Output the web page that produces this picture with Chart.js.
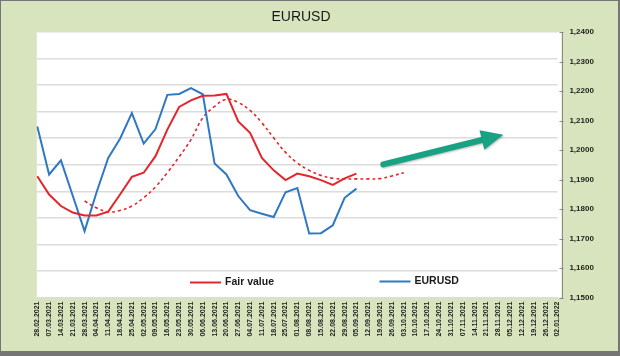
<!DOCTYPE html>
<html><head><meta charset="utf-8">
<script src="https://cdn.jsdelivr.net/npm/chart.js@4"></script>
<style>html,body{margin:0;padding:0;background:#fff;}canvas{display:block}</style>
</head><body><canvas id="c" width="620" height="356"></canvas>
<script>
const chartTitle = 'EURUSD';
const categories = ['28.02.2021','07.03.2021','14.03.2021','21.03.2021','28.03.2021','04.04.2021','11.04.2021','18.04.2021','25.04.2021','02.05.2021','09.05.2021','16.05.2021','23.05.2021','30.05.2021','06.06.2021','13.06.2021','20.06.2021','27.06.2021','04.07.2021','11.07.2021','18.07.2021','25.07.2021','01.08.2021','08.08.2021','15.08.2021','22.08.2021','29.08.2021','05.09.2021','12.09.2021','19.09.2021','26.09.2021','03.10.2021','10.10.2021','17.10.2021','24.10.2021','31.10.2021','07.11.2021','14.11.2021','21.11.2021','28.11.2021','05.12.2021','12.12.2021','19.12.2021','26.12.2021','02.01.2022'];
const eurusd = [1.2080,1.1917,1.1965,1.1845,1.1725,1.1855,1.1973,1.2038,1.2125,1.2022,1.2071,1.2187,1.2190,1.2210,1.2189,1.1954,1.1917,1.1844,1.1796,1.1784,1.1773,1.1857,1.1871,1.1717,1.1718,1.1745,1.1838,1.1869];
const fairValue = [1.1911,1.1849,1.1810,1.1788,1.1778,1.1778,1.1791,1.1849,1.1909,1.1923,1.1979,1.2069,1.2146,1.2168,1.2184,1.2185,1.2190,1.2097,1.2058,1.1973,1.1931,1.1898,1.1920,1.1911,1.1898,1.1882,1.1904,1.1920];
const fairValueTrend = [null,null,null,null,1.1827,1.1804,1.1790,1.1795,1.1810,1.1838,1.1875,1.1923,1.1977,1.2035,1.2109,1.2148,1.2172,1.2161,1.2134,1.2092,1.2041,1.1992,1.1956,1.1931,1.1914,1.1904,1.1902,1.1902,1.1902,1.1903,1.1912,1.1923];
const yMin = 1.15, yMax = 1.24, yStep = 0.01;
const arrowFrom = [29.27, 1.1951];
const arrowTo = [39.42, 1.2052];

const RED = '#e4262c', BLUE = '#2f78c4', GREEN = '#17a283';

const decor = {
  id: 'decor',
  beforeDraw(chart) {
    const {ctx, chartArea: a} = chart;
    ctx.save();
    ctx.fillStyle = '#757575';
    ctx.fillRect(0, 0, 620, 356);
    ctx.fillStyle = '#d8e4bd';
    ctx.fillRect(1, 1, 617, 350);
    ctx.fillStyle = '#ffffff';
    ctx.fillRect(a.left - 0.5, a.top, a.right - a.left + 4.5, a.bottom - a.top);
    ctx.restore();
  },
  afterDraw(chart) {
    const {ctx, chartArea: a, scales} = chart;
    ctx.save();
    // right axis line and tick marks
    const ax = Math.round(a.right + 5) + 0.5;
    ctx.strokeStyle = '#8a8a8a';
    ctx.lineWidth = 1;
    ctx.beginPath();
    ctx.moveTo(ax, a.top);
    ctx.lineTo(ax, a.bottom + 1);
    scales.y.ticks.forEach(t => {
      const py = Math.round(scales.y.getPixelForValue(t.value)) + 0.5;
      ctx.moveTo(ax - 3, py);
      ctx.lineTo(ax + 1, py);
    });
    ctx.stroke();
    // title
    ctx.fillStyle = '#1a1a1a';
    ctx.font = '14px "Liberation Sans", Arial, sans-serif';
    ctx.textAlign = 'center';
    ctx.textBaseline = 'middle';
    ctx.fillText(chartTitle, 301, 17);
    // arrow
    const x0 = scales.x.getPixelForValue(arrowFrom[0]), y0 = scales.y.getPixelForValue(arrowFrom[1]);
    const x1 = scales.x.getPixelForValue(arrowTo[0]), y1 = scales.y.getPixelForValue(arrowTo[1]);
    const dx = x1 - x0, dy = y1 - y0, len = Math.hypot(dx, dy);
    const ux = dx / len, uy = dy / len, nx = -uy, ny = ux;
    const headL = 22, headW = 10;
    const bx = x1 - ux * headL, by = y1 - uy * headL;
    ctx.shadowColor = 'rgba(0,0,0,0.25)';
    ctx.shadowBlur = 2;
    ctx.shadowOffsetX = 1;
    ctx.shadowOffsetY = 1;
    ctx.strokeStyle = GREEN;
    ctx.lineWidth = 6;
    ctx.lineCap = 'round';
    ctx.beginPath();
    ctx.moveTo(x0, y0);
    ctx.lineTo(bx + ux * 2, by + uy * 2);
    ctx.stroke();
    ctx.fillStyle = GREEN;
    ctx.beginPath();
    ctx.moveTo(x1, y1);
    ctx.lineTo(bx + nx * headW, by + ny * headW);
    ctx.lineTo(bx - nx * headW, by - ny * headW);
    ctx.closePath();
    ctx.fill();
    ctx.shadowColor = 'transparent';
    // legend
    const items = [
      {ds: chart.data.datasets[0], x: 190, y: 282.5},
      {ds: chart.data.datasets[1], x: 379.5, y: 281.5}
    ];
    ctx.font = 'bold 10.5px "Liberation Sans", Arial, sans-serif';
    ctx.textAlign = 'left';
    ctx.textBaseline = 'middle';
    items.forEach(it => {
      ctx.strokeStyle = it.ds.borderColor;
      ctx.lineWidth = 2;
      ctx.lineCap = 'butt';
      ctx.beginPath();
      ctx.moveTo(it.x, it.y);
      ctx.lineTo(it.x + 31, it.y);
      ctx.stroke();
      ctx.fillStyle = '#1a1a1a';
      ctx.fillText(it.ds.label, it.x + 35, it.y);
    });
    ctx.restore();
  }
};

new Chart(document.getElementById('c'), {
  type: 'line',
  data: {
    labels: categories,
    datasets: [
      {label: 'Fair value', data: fairValue, borderColor: RED, borderWidth: 2, pointRadius: 0, tension: 0, yAxisID: 'y'},
      {label: 'EURUSD', data: eurusd, borderColor: BLUE, borderWidth: 2, pointRadius: 0, tension: 0, yAxisID: 'y'},
      {label: 'Fair value trend', data: fairValueTrend, borderColor: RED, borderWidth: 1.6, borderDash: [3, 3], pointRadius: 0, tension: 0.4, yAxisID: 'y'}
    ]
  },
  options: {
    responsive: false,
    animation: false,
    devicePixelRatio: 1,
    layout: {padding: {left: 37.3, top: 32, right: 0, bottom: 0}},
    plugins: {legend: {display: false}, title: {display: false}, tooltip: {enabled: false}},
    scales: {
      x: {
        type: 'category', offset: false,
        grid: {display: false, drawTicks: false},
        border: {display: false},
        ticks: {autoSkip: false, minRotation: 90, maxRotation: 90, padding: 4, color: '#222',
                font: {family: '"Liberation Sans", Arial, sans-serif', size: 7, weight: 'bold'}},
        afterFit: s => { s.height = 58.5; }
      },
      yg: {
        position: 'left', min: 0, max: 10,
        ticks: {display: false, stepSize: 1},
        grid: {color: '#dcdcdc', lineWidth: 1.5, drawTicks: false},
        border: {display: false},
        afterFit: s => { s.width = 0; }
      },
      y: {
        position: 'right', min: yMin, max: yMax,
        grid: {display: false, drawTicks: false},
        border: {display: false},
        ticks: {stepSize: yStep, padding: 12, color: '#222',
                font: {family: '"Liberation Sans", Arial, sans-serif', size: 8, weight: 'bold'},
                callback: v => v.toFixed(4).replace('.', ',')},
        afterFit: s => { s.width = 62.6; }
      }
    }
  },
  plugins: [decor]
});
</script></body></html>
